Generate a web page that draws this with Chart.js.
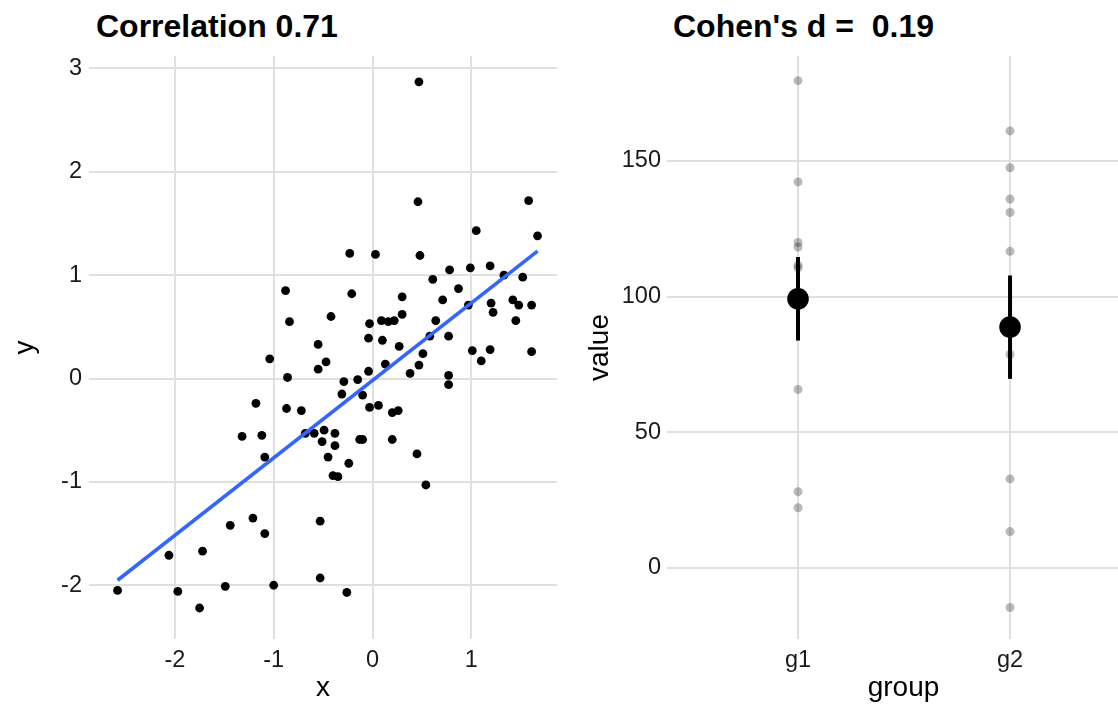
<!DOCTYPE html>
<html>
<head>
<meta charset="utf-8">
<script src="https://cdn.jsdelivr.net/npm/chart.js@4"></script>
<style>
  html, body { margin: 0; padding: 0; background: #ffffff; }
  body { width: 1118px; height: 705px; overflow: hidden; position: relative; font-family: 'Liberation Sans', Arial, sans-serif; }
  .title { position: absolute; top: 10px; font-size: 32px; line-height: 32px; font-weight: bold; color: #000; white-space: pre; }
  canvas { position: absolute; top: 0; }
</style>
</head>
<body>
<div class="title" id="t1" style="left:96px;">Correlation 0.71</div>
<div class="title" id="t2" style="left:673px;">Cohen's d =  0.19</div>
<canvas id="c1" width="560" height="705" style="left:0px;"></canvas>
<canvas id="c2" width="585" height="705" style="left:560px;"></canvas>
<script>
// ---------- Data: left panel (scatter) ----------
const xVals = [0.47,0.46,1.58,1.05,1.67,-0.23,0.03,0.48,0.78,0.99,
  1.19,1.33,1.52,0.61,0.87,-0.21,0.30,0.71,1.20,1.42,
  1.48,1.61,-0.42,0.30,0.09,0.16,0.22,-0.03,0.64,1.22,
  1.45,0.97,-0.04,0.10,0.58,0.77,-0.88,-0.84,-0.55,-1.04,
  -0.47,-0.55,-0.86,-1.18,-0.87,-0.72,-0.68,-0.59,-0.49,-0.51,
  -1.32,-1.12,-1.09,-0.45,-0.40,-1.21,-1.44,-1.09,-0.53,-2.06,
  -1.72,-2.58,-1.97,-1.49,-1.00,-0.53,-1.75,0.27,1.01,1.19,
  1.10,1.61,0.13,0.51,0.47,0.38,-0.04,-0.15,-0.29,0.77,
  0.77,-0.31,-0.10,-0.03,0.06,0.20,0.26,-0.38,-0.38,-0.13,
  -0.10,0.20,-0.24,0.45,-0.35,0.54,-0.26];
const yVals = [2.87,1.71,1.72,1.43,1.38,1.21,1.20,1.19,1.05,1.07,
  1.09,1.00,0.98,0.96,0.87,0.82,0.79,0.76,0.73,0.76,
  0.71,0.71,0.60,0.62,0.56,0.55,0.56,0.53,0.56,0.64,
  0.56,0.71,0.39,0.37,0.41,0.41,0.85,0.55,0.33,0.19,
  0.16,0.09,0.01,-0.24,-0.29,-0.31,-0.53,-0.53,-0.50,-0.61,
  -0.56,-0.55,-0.76,-0.76,-0.94,-1.35,-1.42,-1.50,-1.38,-1.71,
  -1.67,-2.05,-2.06,-2.01,-2.00,-1.93,-2.22,0.31,0.27,0.28,
  0.17,0.26,0.14,0.24,0.13,0.05,0.07,-0.01,-0.03,0.03,
  -0.06,-0.15,-0.16,-0.28,-0.26,-0.33,-0.31,-0.53,-0.65,-0.59,
  -0.59,-0.59,-0.82,-0.73,-0.95,-1.03,-2.07];

// ---------- Data: right panel ----------
const groups = ['g1', 'g2'];
const g1Values = [179.6, 142.3, 120.0, 118.3, 111.5, 110.6, 65.8, 28.1, 22.2];
const g2Values = [161.1, 147.5, 136.0, 131.0, 116.7, 78.7, 32.8, 13.4, -14.6];
const groupMeans = [99.2, 88.8];
const ciLow = [83.8, 69.7];
const ciHigh = [114.6, 107.8];

// ---------- Styling ----------
const FONT = "'Liberation Sans', Arial, sans-serif";
Chart.defaults.font.family = FONT;
const TICK_COLOR = '#1a1a1a';
const GRID_COLOR = '#e0e0e0';
const GRID_W = 2;
const tickFont = { size: 23.5 };
const axisTitleFont = { size: 28 };

// least-squares fit for the smooth line (geom_smooth, method = lm)
const n = xVals.length;
const mx = xVals.reduce((a, b) => a + b, 0) / n;
const my = yVals.reduce((a, b) => a + b, 0) / n;
let sxy = 0, sxx = 0;
for (let i = 0; i < n; i++) { sxy += (xVals[i] - mx) * (yVals[i] - my); sxx += (xVals[i] - mx) ** 2; }
const slope = sxy / sxx, intercept = my - slope * mx;
const xMin = Math.min(...xVals), xMax = Math.max(...xVals);
const fitLine = [{ x: xMin, y: intercept + slope * xMin }, { x: xMax, y: intercept + slope * xMax }];

const scatterPts = xVals.map((x, i) => ({ x, y: yVals[i] }));

const fitX = s => { s.height = 66; s.paddingLeft = 0; s.paddingRight = 0; };

new Chart(document.getElementById('c1'), {
  type: 'scatter',
  data: {
    datasets: [
      { type: 'line', data: fitLine, borderColor: '#3366FF', borderWidth: 3.6, pointRadius: 0, fill: false, tension: 0 },
      { data: scatterPts, backgroundColor: '#000000', borderColor: '#000000', pointRadius: 4.4, borderWidth: 0 }
    ]
  },
  options: {
    responsive: false, animation: false, devicePixelRatio: 1,
    layout: { autoPadding: false, padding: { top: 56, right: 3, bottom: 0, left: 0 } },
    plugins: { legend: { display: false }, tooltip: { enabled: false } },
    scales: {
      x: {
        type: 'linear', min: -2.869, max: 1.867,
        ticks: { stepSize: 1, includeBounds: false, padding: 7, color: TICK_COLOR, font: tickFont, maxRotation: 0,
                 callback: v => String(v) },
        grid: { color: GRID_COLOR, lineWidth: GRID_W, drawTicks: false },
        border: { display: false },
        title: { display: true, text: 'x', color: '#000', font: axisTitleFont, padding: { top: 0, bottom: 0 } },
        afterFit: fitX
      },
      y: {
        type: 'linear', min: -2.52, max: 3.12,
        ticks: { stepSize: 1, includeBounds: false, padding: 7, color: TICK_COLOR, font: tickFont,
                 callback: v => String(v) },
        grid: { color: GRID_COLOR, lineWidth: GRID_W, drawTicks: false },
        border: { display: false },
        title: { display: true, text: 'y', color: '#000', font: axisTitleFont, padding: { top: 8, bottom: 0 } },
        afterFit: s => { s.width = 89; }
      }
    }
  }
});

const g1Pts = g1Values.map(v => ({ x: 1, y: v }));
const g2Pts = g2Values.map(v => ({ x: 2, y: v }));
const meanPts = groupMeans.map((m, i) => ({ x: i + 1, y: m }));
const errSets = groups.map((g, i) => ({
  type: 'line', data: [{ x: i + 1, y: ciLow[i] }, { x: i + 1, y: ciHigh[i] }],
  borderColor: '#000000', borderWidth: 4, pointRadius: 0, fill: false
}));

new Chart(document.getElementById('c2'), {
  type: 'scatter',
  data: {
    datasets: [
      { data: meanPts, backgroundColor: '#000000', borderColor: '#000000', pointRadius: 10.8, borderWidth: 0 },
      ...errSets,
      { data: g1Pts.concat(g2Pts), backgroundColor: 'rgba(0,0,0,0.27)', borderColor: 'rgba(0,0,0,0)', pointRadius: 4.5, borderWidth: 0 }
    ]
  },
  options: {
    responsive: false, animation: false, devicePixelRatio: 1,
    layout: { autoPadding: false, padding: { top: 56, right: 5, bottom: 0, left: 0 } },
    plugins: { legend: { display: false }, tooltip: { enabled: false } },
    scales: {
      x: {
        type: 'linear', min: 0.382, max: 2.613,
        ticks: { stepSize: 1, includeBounds: false, padding: 7, color: TICK_COLOR, font: tickFont, maxRotation: 0,
                 callback: v => groups[Math.round(v) - 1] || '' },
        grid: { color: GRID_COLOR, lineWidth: GRID_W, drawTicks: false },
        border: { display: false },
        title: { display: true, text: 'group', color: '#000', font: axisTitleFont, padding: { top: 0, bottom: 0 } },
        afterFit: fitX
      },
      y: {
        type: 'linear', min: -26.2, max: 188.7,
        ticks: { stepSize: 50, includeBounds: false, padding: 6, color: TICK_COLOR, font: tickFont,
                 callback: v => String(v) },
        grid: { color: GRID_COLOR, lineWidth: GRID_W, drawTicks: false },
        border: { display: false },
        title: { display: true, text: 'value', color: '#000', font: axisTitleFont, padding: { top: 23.5, bottom: 0 } },
        afterFit: s => { s.width = 107; }
      }
    }
  }
});
</script>
</body>
</html>
